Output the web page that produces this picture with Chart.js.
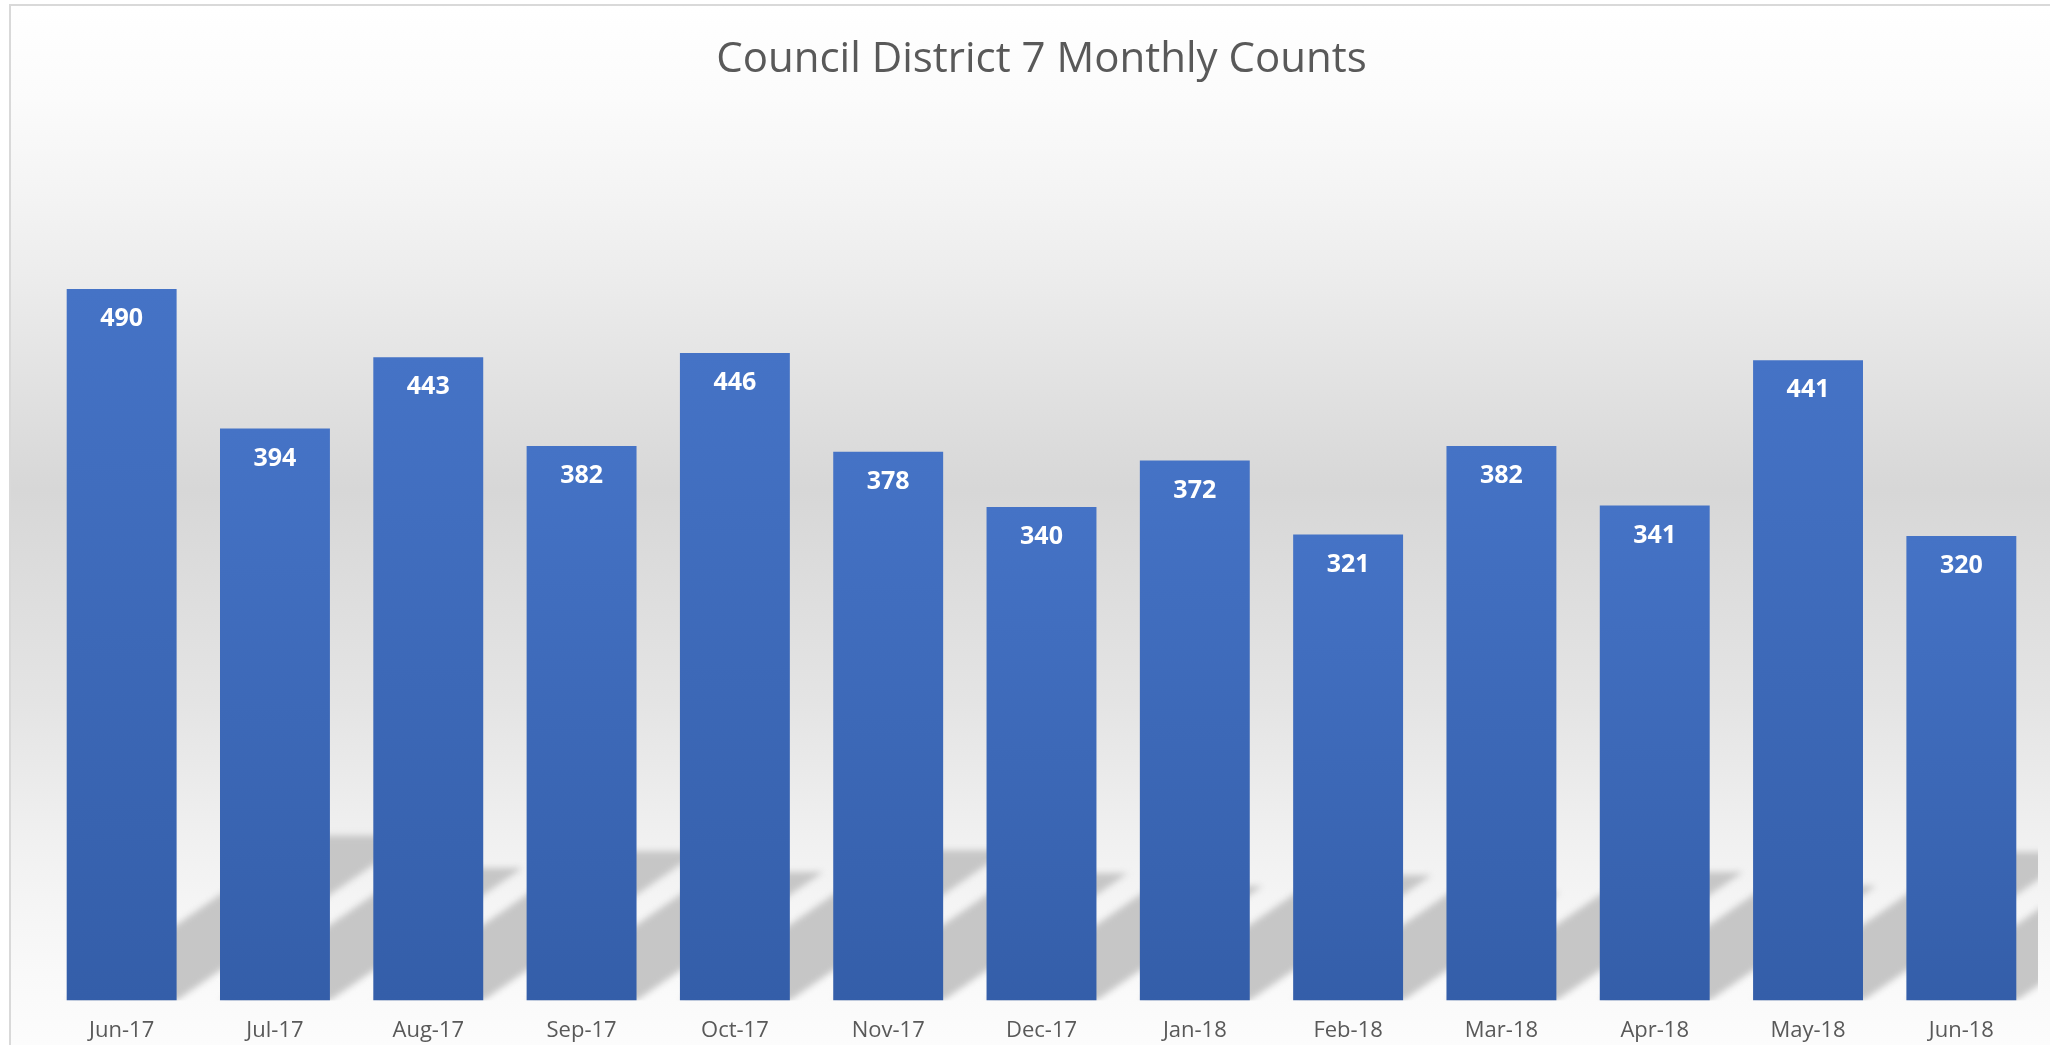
<!DOCTYPE html>
<html>
<head>
<meta charset="utf-8">
<title>Council District 7 Monthly Counts</title>
<script src="https://cdn.jsdelivr.net/npm/chart.js@4/dist/chart.umd.min.js"></script>
<style>
  html, body { margin: 0; padding: 0; background: #fff; overflow: hidden; }
  .frame {
    position: absolute;
    left: 9px;
    top: 4px;
    width: 2039px;
    height: 1057px;
    border-left: 2px solid #d9d9d9;
    border-top: 2px solid #d9d9d9;
  }
</style>
</head>
<body>
<div class="frame"><canvas id="countsChart"></canvas></div>
<script>
// chart data
const months = ['Jun-17', 'Jul-17', 'Aug-17', 'Sep-17', 'Oct-17', 'Nov-17', 'Dec-17',
  'Jan-18', 'Feb-18', 'Mar-18', 'Apr-18', 'May-18', 'Jun-18'];
const counts = [490, 394, 443, 382, 446, 378, 340, 372, 321, 382, 341, 441, 320];
const chartTitle = 'Council District 7 Monthly Counts';

// grey "light gradient" behind everything
const backgroundPlugin = {
  id: 'bgGradient',
  beforeDraw(chart) {
    const { ctx, width } = chart;
    const height = 1039;
    const g = ctx.createLinearGradient(0, 0, 0, height);
    g.addColorStop(0, '#ffffff');
    g.addColorStop(0.09, '#fbfbfb');
    g.addColorStop(0.19, '#f3f3f3');
    g.addColorStop(0.265, '#ececec');
    g.addColorStop(0.465, '#d7d7d7');
    g.addColorStop(0.67, '#e4e4e4');
    g.addColorStop(0.81, '#f1f1f1');
    g.addColorStop(0.93, '#f9f9f9');
    g.addColorStop(1, '#fcfcfc');
    ctx.save();
    ctx.fillStyle = g;
    ctx.fillRect(0, 0, width, chart.height);
    ctx.restore();
  }
};

// perspective shadow (diagonal upper right) cast by each bar
const shadowPlugin = {
  id: 'barShadows',
  beforeDatasetsDraw(chart) {
    const { ctx, chartArea } = chart;
    const meta = chart.getDatasetMeta(0);
    ctx.save();
    ctx.beginPath();
    ctx.rect(chartArea.left, chartArea.top, chartArea.right - chartArea.left, chartArea.bottom - chartArea.top);
    ctx.clip();
    ctx.filter = 'blur(3px)';
    ctx.fillStyle = '#c6c6c6';
    meta.data.forEach(bar => {
      const { x, y, base, width } = bar.getProps(['x', 'y', 'base', 'width'], true);
      const left = x - width / 2;
      const right = x + width / 2;
      const h = (base - y) * 0.232;
      const d = h * 1.45;
      ctx.beginPath();
      ctx.moveTo(left, base);
      ctx.lineTo(right, base);
      ctx.lineTo(right + d, base - h);
      ctx.lineTo(left + d, base - h);
      ctx.closePath();
      ctx.fill();
    });
    ctx.restore();
  }
};

// white bold value inside the top of each bar
const valueLabelPlugin = {
  id: 'valueLabels',
  afterDatasetsDraw(chart) {
    const { ctx } = chart;
    const meta = chart.getDatasetMeta(0);
    ctx.save();
    ctx.fillStyle = '#ffffff';
    ctx.font = 'bold 25px "Open Sans"';
    ctx.textAlign = 'center';
    ctx.textBaseline = 'middle';
    meta.data.forEach((bar, i) => {
      ctx.fillText(String(counts[i]), bar.x, bar.y + 30);
    });
    ctx.restore();
  }
};

function barGradient(context) {
  const chart = context.chart;
  const yScale = chart.scales.y;
  if (!chart.chartArea || !yScale) {
    return '#4472c4';
  }
  const top = yScale.getPixelForValue(context.raw);
  const bottom = yScale.getPixelForValue(0);
  const g = chart.ctx.createLinearGradient(0, top, 0, bottom);
  g.addColorStop(0, '#4573c6');
  g.addColorStop(1, '#345ea9');
  return g;
}

new Chart(document.getElementById('countsChart'), {
  type: 'bar',
  data: {
    labels: months,
    datasets: [{
      label: 'Count',
      data: counts,
      backgroundColor: barGradient,
      borderWidth: 0,
      barPercentage: 0.717,
      categoryPercentage: 1.0
    }]
  },
  options: {
    responsive: true,
    maintainAspectRatio: false,
    animation: false,
    layout: {
      padding: { left: 34, right: 12, top: 0, bottom: 2 }
    },
    plugins: {
      legend: { display: false },
      tooltip: { enabled: false },
      title: {
        display: true,
        text: chartTitle,
        color: '#595959',
        font: { family: 'Open Sans', size: 42, weight: 'normal' },
        padding: { top: 29, bottom: 44 }
      }
    },
    scales: {
      x: {
        grid: { display: false, drawTicks: false },
        border: { display: false },
        ticks: {
          color: '#595959',
          font: { family: 'Open Sans', size: 22 },
          padding: 17,
          maxRotation: 0,
          autoSkip: false
        }
      },
      y: {
        display: false,
        min: 0,
        max: 600
      }
    }
  },
  plugins: [backgroundPlugin, shadowPlugin, valueLabelPlugin]
});
</script>
</body>
</html>
